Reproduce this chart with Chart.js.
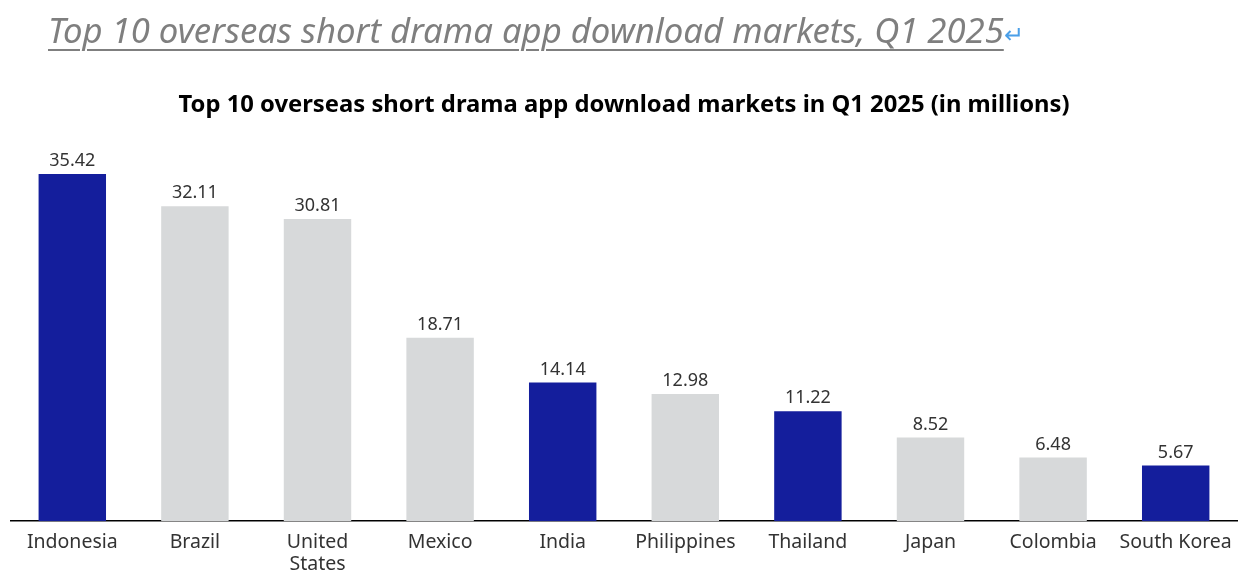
<!DOCTYPE html>
<html>
<head>
<meta charset="utf-8">
<script src="https://cdn.jsdelivr.net/npm/chart.js@4"></script>
<style>
  html, body { margin: 0; padding: 0; background: #fff; }
  #wrap { position: relative; width: 1254px; height: 584px; }
  #heading {
    position: absolute; left: 48px; top: 6px;
    font-family: "Noto Sans", sans-serif; font-style: italic;
    font-size: 34.7px; color: #7f7f7f; white-space: nowrap;
  }
  #heading .txt {
    text-decoration: underline; text-decoration-thickness: 2px;
    text-underline-offset: 6px;
  }
  #heading .ret { color: #4a9fe8; font-style: normal; font-size: 24px; }
  canvas { position: absolute; left: 0; top: 0; }
</style>
</head>
<body>
<div id="wrap">
  <canvas id="chart" width="1254" height="584"></canvas>
  <div id="heading"><span class="txt">Top 10 overseas short drama app download markets, Q1 2025</span><span class="ret">↵</span></div>
</div>
<script>
// chart data
const markets = ['Indonesia', 'Brazil', ['United', 'States'], 'Mexico', 'India',
                 'Philippines', 'Thailand', 'Japan', 'Colombia', 'South Korea'];
const downloads = [35.42, 32.11, 30.81, 18.71, 14.14, 12.98, 11.22, 8.52, 6.48, 5.67];
const highlighted = [true, false, false, false, true, false, true, false, false, true];

const blue = '#141e9c';
const grey = '#d7d9da';

// draws the value above each bar
const valueLabels = {
    id: 'valueLabels',
    afterDatasetsDraw(chart) {
        const ctx = chart.ctx;
        const meta = chart.getDatasetMeta(0);
        ctx.save();
        ctx.font = '18px "Noto Sans", sans-serif';
        ctx.fillStyle = '#333';
        ctx.textAlign = 'center';
        ctx.textBaseline = 'bottom';
        meta.data.forEach((bar, i) => {
            ctx.fillText(downloads[i].toFixed(2), bar.x, bar.y - 4);
        });
        ctx.restore();
    }
};

let ctx = document.getElementById('chart').getContext('2d');
let myChart = new Chart(ctx, {
    type: 'bar',
    data: {
        labels: markets,
        datasets: [{
            data: downloads,
            backgroundColor: highlighted.map(h => h ? blue : grey),
            barPercentage: 0.55,
            categoryPercentage: 1
        }]
    },
    options: {
        responsive: false,
        animation: false,
        layout: { padding: { top: 80, left: 11, right: 17, bottom: -2 } },
        plugins: {
            legend: { display: false },
            tooltip: { enabled: false },
            title: {
                display: true,
                text: 'Top 10 overseas short drama app download markets in Q1 2025 (in millions)',
                color: '#000',
                font: { family: '"Noto Sans", sans-serif', size: 23.8, weight: 'bold' },
                padding: { top: 11, bottom: 31 }
            }
        },
        scales: {
            x: {
                grid: { display: false, drawTicks: false },
                border: { color: '#000', width: 1.5 },
                ticks: {
                    color: '#333',
                    padding: 10,
                    maxRotation: 0,
                    autoSkip: false,
                    font: { family: '"Noto Sans", sans-serif', size: 19.5, lineHeight: 1.15 }
                }
            },
            y: {
                display: false,
                min: 0,
                max: 37.8
            }
        }
    },
    plugins: [valueLabels]
});
</script>
</body>
</html>
